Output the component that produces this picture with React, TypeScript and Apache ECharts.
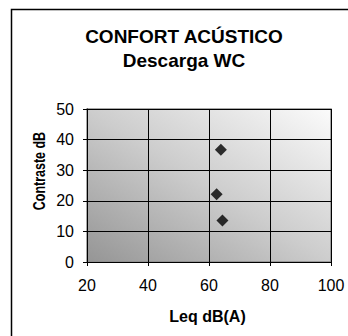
import React, { useEffect, useRef } from "react";
import * as echarts from "echarts";

const titleLine1 = "CONFORT ACÚSTICO";
const titleLine2 = "Descarga WC";
const xName = "Leq dB(A)";
const yName = "Contraste dB";
const leqValues = [63.9, 62.5, 64.4];
const contrasteValues = [36.7, 22.1, 13.6];

export default function App() {
  const ref = useRef<HTMLDivElement>(null);
  useEffect(() => {
    if (!ref.current) return;
    const chart = echarts.init(ref.current, null, { renderer: "svg" });
    const font = "Arial, 'Liberation Sans', sans-serif";
    chart.setOption({
      animation: false,
      backgroundColor: "#ffffff",
      grid: {
        left: 87,
        right: 17,
        top: 109,
        bottom: 74,
        show: true,
        borderColor: "#8c8c8c",
        borderWidth: 1.5,
        backgroundColor: new echarts.graphic.LinearGradient(0, 1, 1, 0, [
          { offset: 0, color: "#959595" },
          { offset: 0.5, color: "#cdcdcd" },
          { offset: 1, color: "#fbfbfb" },
        ]),
      },
      xAxis: {
        type: "value",
        min: 20,
        max: 100,
        interval: 20,
        axisLine: { show: true, onZero: false, lineStyle: { color: "#000", width: 1 } },
        axisTick: { show: true, length: 4, lineStyle: { color: "#000" } },
        axisLabel: { color: "#000", fontSize: 16, fontFamily: font, margin: 15 },
        splitLine: { show: true, lineStyle: { color: "#000", width: 1 } },
      },
      yAxis: {
        type: "value",
        min: 0,
        max: 50,
        interval: 10,
        axisLine: { show: true, onZero: false, lineStyle: { color: "#000", width: 1 } },
        axisTick: { show: true, length: 4, lineStyle: { color: "#000" } },
        axisLabel: { color: "#000", fontSize: 16, fontFamily: font, margin: 13 },
        splitLine: { show: true, lineStyle: { color: "#000", width: 1 } },
      },
      series: [
        {
          type: "scatter",
          symbol: "diamond",
          symbolSize: 12,
          itemStyle: { color: "#000" },
          data: leqValues.map((x, i) => [x, contrasteValues[i]]),
        },
      ],
      graphic: [
        {
          type: "rect",
          shape: { x: 11.5, y: 9.5, width: 400, height: 400 },
          style: { fill: "none", stroke: "#000", lineWidth: 1.5 },
          z: 100,
        },
        {
          type: "text",
          x: 184,
          y: 36,
          style: {
            text: titleLine1,
            fill: "#000",
            font: `bold 19px ${font}`,
            textAlign: "center",
            textVerticalAlign: "middle",
          },
        },
        {
          type: "text",
          x: 184,
          y: 60,
          style: {
            text: titleLine2,
            fill: "#000",
            font: `bold 19px ${font}`,
            textAlign: "center",
            textVerticalAlign: "middle",
          },
        },
        {
          type: "text",
          x: 207.5,
          y: 316,
          style: {
            text: xName,
            fill: "#000",
            font: `bold 16px ${font}`,
            textAlign: "center",
            textVerticalAlign: "middle",
          },
        },
        {
          type: "text",
          x: 39,
          y: 171,
          rotation: Math.PI / 2,
          scaleX: 0.78,
          style: {
            text: yName,
            fill: "#000",
            font: `bold 16px ${font}`,
            textAlign: "center",
            textVerticalAlign: "middle",
          },
        },
      ],
    });
    return () => chart.dispose();
  }, []);
  return (
    <div
      ref={ref}
      style={{ position: "absolute", left: 0, top: 0, width: 348, height: 336 }}
    />
  );
}
